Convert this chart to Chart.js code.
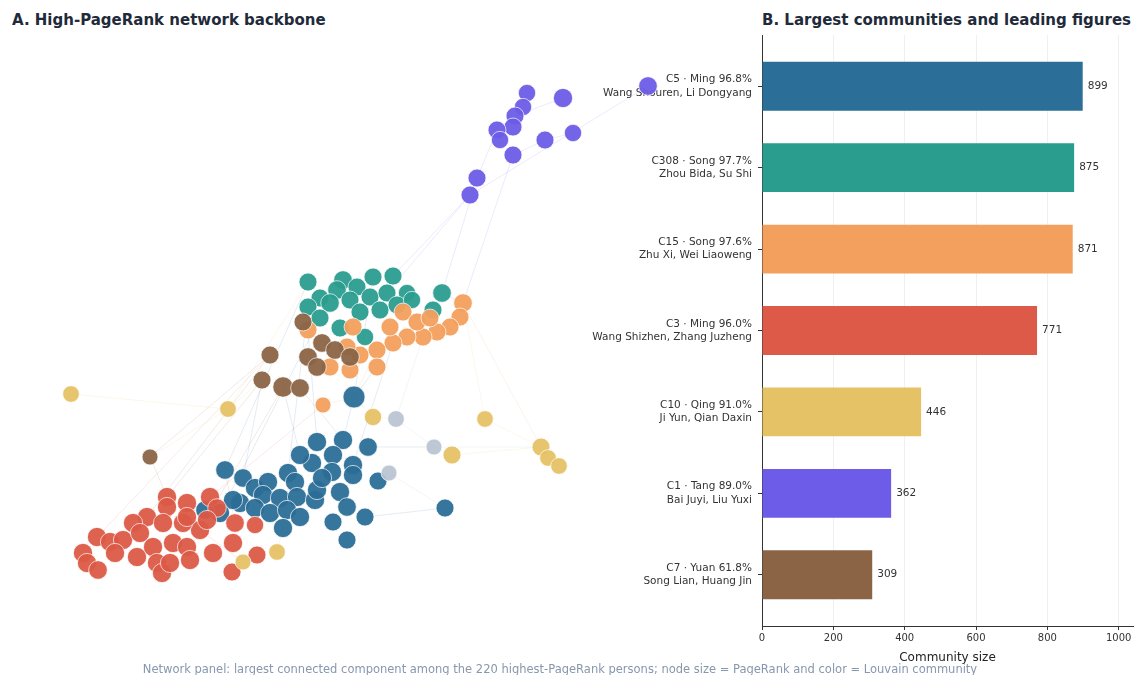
<!DOCTYPE html>
<html>
<head>
<meta charset="utf-8">
<title>PageRank backbone and largest communities</title>
<script src="https://cdn.jsdelivr.net/npm/chart.js@4.4.1/dist/chart.umd.min.js"></script>
<style>
  html, body { margin: 0; padding: 0; background: #ffffff; }
  #stage { position: relative; width: 1134px; height: 675px; overflow: hidden; font-family: "DejaVu Sans", sans-serif; }
  #net { position: absolute; left: 40px; top: 40px; }
  #bars { position: absolute; left: 580px; top: 30px; }
  .panel-title { position: absolute; top: 11px; font-weight: bold; font-size: 15px; line-height: 18px; color: #1f2a3a; white-space: nowrap; }
  #caption { position: absolute; left: 0; width: 1120px; top: 662px; text-align: center; font-size: 11.5px; line-height: 14px; color: #8797ad; white-space: nowrap; }
</style>
</head>
<body>
<div id="stage">
  <canvas id="bars" width="554" height="645"></canvas>
  <canvas id="net" width="700" height="600"></canvas>
  <div class="panel-title" style="left:12px">A. High-PageRank network backbone</div>
  <div class="panel-title" style="left:762px">B. Largest communities and leading figures</div>
  <div id="caption">Network panel: largest connected component among the 220 highest-PageRank persons; node size = PageRank and color = Louvain community</div>
</div>
<script>
// ---- Community summary (panel B) ----
const communityIds   = ['C5', 'C308', 'C15', 'C3', 'C10', 'C1', 'C7'];
const dynasties      = ['Ming', 'Song', 'Song', 'Ming', 'Qing', 'Tang', 'Yuan'];
const dynastyShares  = [96.8, 97.7, 97.6, 96.0, 91.0, 89.0, 61.8];
const leadingFigures = ['Wang Shouren, Li Dongyang', 'Zhou Bida, Su Shi', 'Zhu Xi, Wei Liaoweng',
                        'Wang Shizhen, Zhang Juzheng', 'Ji Yun, Qian Daxin', 'Bai Juyi, Liu Yuxi', 'Song Lian, Huang Jin'];
const communitySizes = [899, 875, 871, 771, 446, 362, 309];
const sizeTicks      = [0, 200, 400, 600, 800, 1000];

// ---- Network layout (panel A): [layout x, layout y, PageRank x 1e4] ----
const nodesC1 = [
  [60.8,55.4,15],[52.3,54.2,16],[48.7,54.7,13],[48.3,53.3,13],[47.5,52.4,14],[47.3,51.3,14],[45.7,51.0,14],
  [46.0,50.0,13],[50.5,50.0,14],[53.3,50.7,13],[47.3,48.5,14],[43.7,46.2,14],[43.0,44.5,14]
];
const nodesC308 = [
  [26.8,35.8,14],[30.3,36.0,15],[33.3,36.3,14],[35.3,36.4,14],[31.7,35.3,14],[29.7,35.0,15],[28.0,34.2,14],
  [26.8,33.3,14],[29.0,33.7,15],[31.0,34.0,14],[33.0,34.3,14],[34.7,34.7,14],[36.7,34.7,13],[40.2,34.7,15],
  [39.3,33.0,14],[32.0,32.8,14],[34.0,33.0,14],[30.0,31.2,14],[32.5,30.3,13],[35.7,33.5,14],[28.0,32.2,14],[37.2,34.0,13]
];
const nodesC15 = [
  [42.3,33.7,15],[42.0,32.3,14],[41.0,31.3,14],[39.7,30.8,14],[38.3,30.3,14],[36.7,30.3,14],[35.3,29.7,14],
  [33.7,29.0,14],[33.7,27.3,14],[32.0,28.5,14],[30.7,29.3,14],[29.0,27.3,14],[31.0,27.0,14],[26.8,31.0,14],
  [36.3,32.8,14],[37.7,31.8,14],[35.0,31.3,14],[31.3,31.3,14],[39.0,32.2,14],[28.3,23.5,11]
];
const nodesC7 = [
  [23.0,28.5,14],[22.2,26.0,14],[24.3,25.3,18],[26.0,25.2,15],[26.8,28.3,15],[28.2,29.7,15],[27.7,27.3,15],
  [29.5,29.0,15],[31.0,28.3,15],[26.3,31.8,14],[11.0,18.3,11]
];
const nodesC10 = [
  [3.1,24.6,12],[18.8,23.1,12],[33.3,22.3,13],[44.5,22.1,12],[41.2,18.5,14],[50.1,19.3,14],[50.8,18.2,12],
  [51.9,17.4,12],[23.7,8.8,12],[20.3,7.8,11]
];
const nodesOther = [
  [35.6,22.1,12],[39.4,19.3,11],[34.9,16.7,11]
];
const nodesC5 = [
  [31.4,24.3,21],[33.8,15.9,14],[40.5,13.2,14],[27.7,19.8,16],[30.3,20.0,16],[32.8,19.3,15],[29.3,18.5,16],
  [27.2,17.7,16],[31.3,17.5,16],[29.2,16.8,16],[31.3,16.5,16],[18.5,17.0,15],[20.3,16.2,15],[21.5,15.2,16],
  [22.8,15.8,16],[24.8,16.7,16],[25.5,15.8,16],[22.3,14.5,16],[24.0,14.2,16],[25.7,14.3,16],[27.5,14.0,16],
  [27.7,15.0,16],[30.0,14.8,16],[20.0,13.7,16],[21.5,13.2,16],[23.0,12.7,16],[24.7,13.0,16],[26.0,12.3,16],
  [24.3,11.2,16],[30.7,13.3,15],[29.3,11.8,14],[32.5,12.3,14],[30.7,10.0,14],[19.3,14.0,16],[18.0,12.7,16],
  [16.5,13.0,15],[26.0,18.5,16],[28.2,16.2,16]
];
const nodesC3 = [
  [12.7,14.3,16],[14.7,13.7,16],[10.7,12.3,16],[12.7,13.3,16],[9.3,11.7,16],[5.7,10.3,16],[7.0,9.8,16],
  [8.3,10.0,16],[4.3,8.7,16],[4.7,7.7,16],[5.8,7.0,15],[7.5,8.7,16],[9.7,8.3,16],[11.3,9.3,16],
  [13.3,9.7,16],[14.7,9.3,16],[16.0,11.0,16],[14.3,11.7,16],[12.3,11.7,16],[10.0,10.7,16],[11.7,7.7,16],
  [12.2,6.7,16],[13.0,7.7,16],[15.0,8.0,16],[17.3,8.7,16],[19.3,9.7,16],[19.5,11.7,15],[21.5,11.5,13],
  [21.7,8.5,14],[19.2,6.8,14],[17.0,14.3,16],[17.7,13.2,15],[14.7,12.3,16],[16.7,12.0,16]
];

// Edges between backbone persons: [community, index, community, index]
const networkEdges = [
  ['C1',0,'C1',12],['C1',1,'C1',4],['C1',2,'C1',5],['C1',6,'C1',11],['C1',8,'C1',10],['C1',9,'C1',8],['C1',11,'C1',12],
  ['C1',12,'C308',3],['C1',11,'C308',13],['C1',10,'C15',0],['C1',12,'C308',11],
  ['C10',0,'C10',1],['C10',1,'C7',1],['C10',1,'C7',10],['C10',1,'C308',0],['C10',2,'Other',0],['C10',2,'C5',0],
  ['C10',3,'C10',5],['C10',4,'C10',5],['C10',5,'C10',6],['C10',6,'C10',7],['C10',8,'C5',28],['C10',9,'C3',28],
  ['C10',3,'C15',0],['C10',4,'Other',1],
  ['Other',0,'Other',1],['Other',1,'C10',5],['Other',2,'C5',2],['Other',2,'C5',1],['Other',0,'C15',4],
  ['C7',10,'C7',0],['C7',10,'C3',0],['C7',1,'C3',0],['C7',0,'C3',2],['C7',2,'C3',16],['C7',3,'C5',4],['C7',9,'C308',7],
  ['C5',11,'C308',0],['C5',15,'C308',7],['C5',3,'C15',13],['C5',0,'C308',2],['C5',0,'C15',8],['C5',8,'C15',6],
  ['C5',34,'C308',20],['C5',5,'Other',1],['C5',2,'C5',31],['C5',36,'C7',2],['C5',0,'C5',4],['C5',12,'C7',1],
  ['C3',30,'C15',19],['C3',5,'C7',0],['C3',26,'C5',11],['C3',16,'C10',9],
  ['C15',19,'C5',0],['C15',0,'C10',5],['C15',13,'C7',9],['C308',13,'C15',0],['C15',7,'C5',0]
];

// ---- Styling ----
const communityColors = {
  C5: '#2b6e97', C308: '#2a9d8f', C15: '#f3a05e', C3: '#dc5a47',
  C10: '#e6c266', C1: '#6c5ce7', C7: '#8b6446', Other: '#b9c5d2'
};
const nodeLookup = { C1: nodesC1, C308: nodesC308, C15: nodesC15, C7: nodesC7, C10: nodesC10, Other: nodesOther, C5: nodesC5, C3: nodesC3 };
// lower order = drawn on top
const nodeLayers = [
  ['Other', 1], ['C10', 2], ['C7', 3], ['C15', 4], ['C308', 5], ['C3', 6], ['C5', 7], ['C1', 8]
];

Chart.defaults.font.family = '"DejaVu Sans", sans-serif';
Chart.defaults.color = '#333333';

function rgba(hex, a) {
  const n = parseInt(hex.slice(1), 16);
  return `rgba(${(n >> 16) & 255}, ${(n >> 8) & 255}, ${n & 255}, ${a})`;
}
function radiusFor(pr) { return 2.4 * Math.sqrt(pr); }

// group edge segments by source community, separated by gaps
const edgeGroups = {};
networkEdges.forEach(([ka, ia, kb, ib]) => {
  const a = nodeLookup[ka][ia], b = nodeLookup[kb][ib];
  (edgeGroups[ka] = edgeGroups[ka] || []).push({ x: a[0], y: a[1] }, { x: b[0], y: b[1] }, { x: null, y: null });
});

const netDatasets = [];
Object.keys(edgeGroups).forEach(key => {
  netDatasets.push({
    data: edgeGroups[key], showLine: true, spanGaps: false,
    borderColor: rgba(key === 'Other' ? '#9fb0c4' : communityColors[key], 0.13),
    borderWidth: 1, pointRadius: 0, order: 20, clip: false
  });
});
nodeLayers.forEach(([key, order]) => {
  netDatasets.push({
    data: nodeLookup[key].map(n => ({ x: n[0], y: n[1], pr: n[2] })),
    backgroundColor: rgba(communityColors[key], 0.95),
    borderColor: 'rgba(255,255,255,0.85)',
    borderWidth: 0.8,
    pointRadius: ctx => radiusFor(ctx.raw.pr),
    pointHoverRadius: ctx => radiusFor(ctx.raw.pr),
    order, clip: false
  });
});

new Chart(document.getElementById('net'), {
  type: 'scatter',
  data: { datasets: netDatasets },
  options: {
    responsive: false, animation: false, devicePixelRatio: 1, events: [],
    layout: { padding: 0, autoPadding: false },
    plugins: { legend: { display: false }, tooltip: { enabled: false } },
    scales: {
      x: { type: 'linear', min: 0, max: 70, display: false },
      y: { type: 'linear', min: 0, max: 60, display: false }
    }
  }
});

// value labels at the end of each bar
const valueLabels = {
  id: 'valueLabels',
  afterDatasetsDraw(chart) {
    const { ctx } = chart;
    const meta = chart.getDatasetMeta(0);
    ctx.save();
    ctx.font = '10.5px "DejaVu Sans", sans-serif';
    ctx.fillStyle = '#333333';
    ctx.textBaseline = 'middle';
    ctx.textAlign = 'left';
    meta.data.forEach((bar, i) => ctx.fillText(String(communitySizes[i]), bar.x + 5, bar.y));
    ctx.restore();
  }
};

new Chart(document.getElementById('bars'), {
  type: 'bar',
  data: {
    datasets: [{
      data: communitySizes.map((v, i) => ({ x: v, y: i })),
      backgroundColor: communityIds.map(id => communityColors[id]),
      borderWidth: 0,
      categoryPercentage: 1,
      barPercentage: 0.6
    }]
  },
  options: {
    indexAxis: 'y',
    responsive: false, animation: false, devicePixelRatio: 1, events: [],
    layout: { padding: { top: 5, right: 1, left: 0, bottom: 0 }, autoPadding: false },
    plugins: { legend: { display: false }, tooltip: { enabled: false } },
    scales: {
      x: {
        type: 'linear', position: 'bottom', min: 0, max: 1040, offset: false,
        afterBuildTicks: s => { s.ticks = sizeTicks.map(v => ({ value: v })); },
        afterFit: s => { s.height = 49; s.paddingLeft = 0; s.paddingRight = 0; },
        ticks: { font: { size: 10 }, color: '#333333', padding: 2, callback: v => String(v) },
        grid: { color: 'rgba(0,0,0,0.06)', tickColor: '#333333', tickLength: 4, lineWidth: 1, offset: false },
        border: { color: '#333333', width: 1 },
        title: { display: true, text: 'Community size', font: { size: 12 }, color: '#222222', padding: { top: 2, bottom: 10 } }
      },
      y: {
        type: 'linear', reverse: true, min: -0.63, max: 6.63, offset: false,
        afterBuildTicks: s => { s.ticks = communityIds.map((_, i) => ({ value: i })); },
        afterFit: s => { s.width = 182; s.paddingTop = 0; s.paddingBottom = 0; },
        ticks: {
          autoSkip: false, padding: 6, color: '#333333',
          font: { size: 10.5, lineHeight: 1.25 },
          callback: v => [`${communityIds[v]} · ${dynasties[v]} ${dynastyShares[v].toFixed(1)}%`, leadingFigures[v]]
        },
        grid: { drawOnChartArea: false, tickColor: '#333333', tickLength: 4, offset: false },
        border: { color: '#333333', width: 1 }
      }
    }
  },
  plugins: [valueLabels]
});
</script>
</body>
</html>
